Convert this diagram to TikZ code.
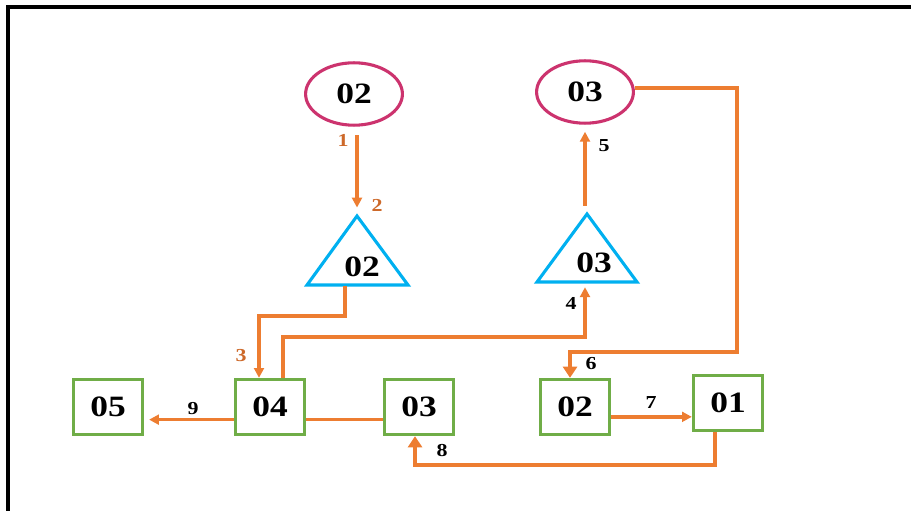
\documentclass[tikz,border=0pt]{standalone}
\usepackage{fontspec}
\newfontfamily\numfont{Liberation Serif}[FakeStretch=1.2]
\usetikzlibrary{shapes.geometric,arrows.meta}
\definecolor{lineorange}{RGB}{237,125,49}
\definecolor{numorange}{RGB}{205,105,42}
\definecolor{ovalpink}{RGB}{204,51,110}
\definecolor{triblue}{RGB}{0,176,240}
\definecolor{boxgreen}{RGB}{112,173,71}
\tikzset{
  box/.style={draw=boxgreen, line width=2.2pt, minimum width=1.73cm, minimum height=1.38cm,
    inner sep=0pt, font=\numfont\bfseries\fontsize{21}{24}\selectfont},
  oval/.style={ellipse, draw=ovalpink, line width=2.2pt, minimum width=2.42cm, minimum height=1.56cm,
    inner sep=0pt, font=\numfont\bfseries\fontsize{21}{24}\selectfont},
  tri/.style={draw=triblue, line width=2.2pt, line join=miter},
  trinum/.style={inner sep=0pt, font=\numfont\bfseries\fontsize{21}{24}\selectfont},
  link/.style={draw=lineorange, line width=2.5pt},
  flow/.style={link, -{Triangle[length=7pt,width=7pt]}},
  flowbig/.style={link, line width=2.8pt, -{Triangle[length=8pt,width=10pt]}},
  num/.style={inner sep=0pt, font=\numfont\bfseries\fontsize{13}{15}\selectfont}
}
\begin{document}
\begin{tikzpicture}[x=0.025cm,y=-0.025cm]
\useasboundingbox (0,0) rectangle (911,511);
\draw[line width=2.2pt] (8,511) -- (8,7) -- (911,7);

\node[oval] (e2) at (354,94) {02};
\node[oval] (e3) at (585,92) {03};

\draw[tri] (307,285) -- (357,216) -- (408,285) -- cycle;
\coordinate (ap2) at (357,216);
\coordinate (tb2) at (345,286);
\node[trinum] (t2) at (362,267) {02};

\draw[tri] (537,282) -- (587,214) -- (637,282) -- cycle;
\coordinate (ap3) at (585,214);
\coordinate (tb3) at (585,283);
\node[trinum] (t3) at (594,263) {03};

\node[box] (b5) at (108,407) {05};
\node[box] (b4) at (270,407) {04};
\node[box] (b3) at (419,407) {03};
\node[box] (b2) at (575,407) {02};
\node[box] (b1) at (728,403) {01};

\coordinate (c3) at (259,316);
\coordinate (k4) at (283,337);
\coordinate (c4) at (585,337);
\coordinate (c6a) at (737,88);
\coordinate (c6b) at (737,352);
\coordinate (c6c) at (570,352);
\coordinate (c8a) at (715,465);
\coordinate (c8b) at (415,465);

\draw[flow, shorten <=6pt, shorten >=6pt] (e2.south -| ap2) -- (ap2);
\draw[flow, shorten <=6pt, shorten >=5pt] (ap3) -- (e3.south -| ap3);
\draw[flow] (tb2) |- (c3) -- (c3 |- b4.north);
\draw[flow, shorten >=3pt] (k4 |- b4.north) -- (k4) -- (c4) -- (tb3);
\draw[flowbig] (e3.east |- c6a) -- (c6a) -- (c6b) -- (c6c) -- (c6c |- b2.north);
\draw[flow] ([yshift=-7pt]b2.east) -- ([yshift=-7pt]b2.east -| b1.west);
\draw[flowbig] (c8a |- b1.south) -- (c8a) -- (c8b) -- (c8b |- b3.south);
\draw[flow, shorten >=3.5pt] ([yshift=-9pt]b4.west) -- ([yshift=-9pt]b4.west -| b5.east);
\draw[link] ([yshift=-9pt]b4.east) -- ([yshift=-9pt]b4.east -| b3.west);

\node[num, text=numorange] (n1) at (343,140) {1};
\node[num, text=numorange] (n2) at (377,205) {2};
\node[num, text=numorange] (n3) at (241,356) {3};
\node[num] (n4) at (571,303) {4};
\node[num] (n5) at (604,146) {5};
\node[num] (n6) at (591,364) {6};
\node[num] (n7) at (651,403) {7};
\node[num] (n8) at (442,451) {8};
\node[num] (n9) at (193,409) {9};
\end{tikzpicture}
\end{document}
